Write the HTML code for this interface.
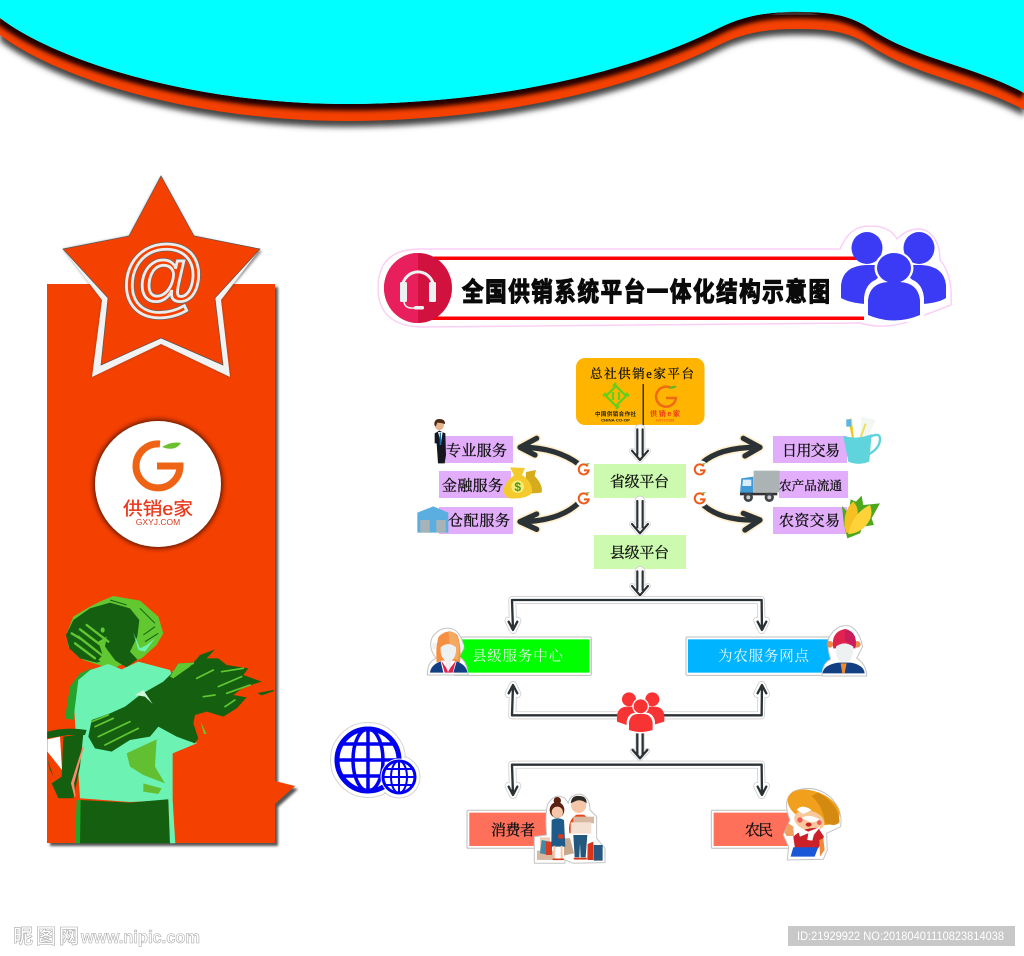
<!DOCTYPE html>
<html lang="zh"><head><meta charset="utf-8"><title>全国供销系统平台一体化结构示意图</title>
<style>
html,body{margin:0;padding:0;background:#fff;width:1024px;height:956px;overflow:hidden}
svg{display:block}
.l{font-family:"Liberation Serif","Noto Serif CJK SC",serif;font-size:15px;fill:#111;stroke:#111;stroke-width:.3}
.s{font-family:"Liberation Sans","Noto Sans CJK SC",sans-serif}
</style></head><body>
<svg xmlns="http://www.w3.org/2000/svg" width="1024" height="956" viewBox="0 0 1024 956">
<defs>
<filter id="b3" x="-10%" y="-50%" width="120%" height="200%"><feGaussianBlur stdDeviation="3"/></filter>
<filter id="b1" x="-10%" y="-10%" width="120%" height="120%"><feGaussianBlur stdDeviation="1.2"/></filter>
<filter id="b2" x="-20%" y="-20%" width="140%" height="140%"><feGaussianBlur stdDeviation="2"/></filter>
<clipPath id="bandclip"><path d="M0,18 C55,60 190,104 346,104 C480,104 620,78 719,28 C745,15 770,12 794,12 C820,12 845,12 869,28 C915,59 975,66 1024,93 L1024,110 C975,83 915,76 869,45 C845,29 820,29 794,29 C770,29 745,32 719,45 C620,95 480,121 346,121 C190,121 55,77 0,35 Z"/></clipPath>
<g id="smallg"><path d="M12,-9 A15,15 0 1 0 15,3 L1,3" fill="none" stroke="#ef5a1a" stroke-width="6"/><path d="M5,-16 Q12,-20 19,-17 Q12,-12 5,-16Z" fill="#5fb52a"/></g>
</defs>
<rect width="1024" height="956" fill="#fff"/>

<!-- top wave -->
<path d="M0,24 C55,66 190,110 346,110 C480,110 620,84 719,34 C745,21 770,18 794,18 C820,18 845,18 869,34 C915,65 975,72 1024,99 L1024,116 C975,89 915,82 869,51 C845,35 820,35 794,35 C770,35 745,38 719,51 C620,101 480,127 346,127 C190,127 55,83 0,41 Z" fill="#444" filter="url(#b3)"/>
<path d="M0,18 C55,60 190,104 346,104 C480,104 620,78 719,28 C745,15 770,12 794,12 C820,12 845,12 869,28 C915,59 975,66 1024,93 L1024,110 C975,83 915,76 869,45 C845,29 820,29 794,29 C770,29 745,32 719,45 C620,95 480,121 346,121 C190,121 55,77 0,35 Z" fill="#f44000"/>
<g clip-path="url(#bandclip)"><path d="M0,18 C55,60 190,104 346,104 C480,104 620,78 719,28 C745,15 770,12 794,12 C820,12 845,12 869,28 C915,59 975,66 1024,93" fill="none" stroke="#200400" stroke-width="13" filter="url(#b2)"/></g>
<path d="M0,0 L1024,0 L1024,93 C975,66 915,59 869,28 C845,12 820,12 794,12 C770,12 745,15 719,28 C620,78 480,104 346,104 C190,104 55,60 0,18 Z" fill="#0ff"/>
<path d="M770,15 Q794,8 820,15 Q794,15 770,15Z" fill="#555" opacity=".55"/>

<!-- left panel -->
<path d="M50,287 H278 V784 L298,789 L278,807 V846 H50 Z" fill="#555" filter="url(#b1)"/>
<path d="M47,284 H275 V781 L295,786 L275,804 V843 H47 Z" fill="#f44000"/>
<!-- star -->
<polygon points="161,176 194,236 262,251 221,300 230,377 161,344 92,377 102,300 63,249 129,236" fill="#444" filter="url(#b1)" opacity=".6"/>
<polygon points="161,176 194,236 260,249 221,300 230,377 161,344 92,377 102,300 63,249 129,236" fill="#f2f2f2"/>
<polygon points="161,176 194,236 260,249 215,298 223,365 161,338 101,365 108,298 63,249 129,236" fill="#f44000" stroke="#555" stroke-width=".7"/>
<text x="161.500" y="306" text-anchor="middle" font-family="Liberation Sans, sans-serif" font-style="italic" font-size="85" fill="#f44000" stroke="#666" stroke-width="4.200">@</text>
<text x="161.500" y="306" text-anchor="middle" font-family="Liberation Sans, sans-serif" font-style="italic" font-size="85" fill="#f44000" stroke="#ececec" stroke-width="2.800">@</text>
<!-- logo circle -->
<circle cx="158" cy="484" r="65" fill="#6a1c00" filter="url(#b2)"/>
<circle cx="158" cy="484" r="63" fill="#fff"/>
<path d="M160,444 A22,22 0 1 0 180,466 L157,466" fill="none" stroke="#ee6414" stroke-width="7"/>
<path d="M162,447 Q172,441 181,443 Q175,452 162,447Z" fill="#6cbf2e"/>
<text x="158" y="515" text-anchor="middle" class="s" font-size="18" fill="#e8391b" stroke="#e8391b" stroke-width=".3" textLength="70" lengthAdjust="spacingAndGlyphs">供销e家</text>
<text x="158" y="525" text-anchor="middle" class="s" font-size="8.500" fill="#d83a1a">GXYJ.COM</text>

<!-- farmer -->
<g transform="translate(30,580) scale(.3333)">
<path d="M210,65 L250,48 L330,62 L385,110 L400,160 L380,195 L335,235 L240,265 L160,240 L115,200 L110,160 L130,110 L180,80Z" fill="#62c832"/>
<path d="M108,165 L130,120 L180,85 L240,68 L300,85 L328,120 L322,170 L300,215 L322,238 L290,262 L245,235 L200,248 L150,235 L118,205Z" fill="#156010"/>
<g fill="none" stroke="#62c832" stroke-width="7" stroke-linecap="round"><path d="M150,148 L225,205"/><path d="M145,170 L215,225"/><path d="M135,190 L195,235"/><path d="M170,135 L235,185"/><path d="M125,160 L150,175"/></g>
<path d="M230,170 L225,200 L268,258 L245,266 L205,240 L218,225 L205,185Z" fill="#62c832"/>
<ellipse cx="218" cy="150" rx="6" ry="8" fill="#62c832"/>
<path d="M310,158 L325,210 L345,215 L375,175 L350,195 L330,205Z" fill="#6cf3b4"/>
<g fill="none" stroke="#156010" stroke-width="3"><path d="M340,165 L375,140"/><path d="M345,185 L385,160"/><path d="M330,85 L375,130"/><path d="M240,60 L290,75"/></g>
<path d="M130,350 L150,280 L235,252 L275,268 L325,245 L420,270 L500,490 L428,520 L428,660 L300,666 L150,655 L140,500Z" fill="#6cf3b4"/>
<path d="M105,415 L120,320 L150,280 L190,262 L145,300 L130,420Z" fill="#24a42c"/>
<path d="M290,520 L380,478 L375,560 L405,610 L340,585 L300,560Z" fill="#62bf32"/>
<path d="M340,610 L395,625 L385,642 L340,635Z" fill="#62bf32"/>
<path d="M150,660 L300,668 L415,658 L420,790 L150,790Z" fill="#156010"/>
<path d="M135,790 L140,660 L152,660 L150,790Z" fill="#24a42c"/>
<path d="M415,658 L428,660 L436,790 L420,790Z" fill="#6cf3b4"/>
<path d="M400,305 L425,280 L445,250 L490,248 L510,225 L555,208 L530,235 L565,235 L590,255 L655,265 L640,285 L695,305 L640,322 L610,345 L650,352 L620,385 L580,410 L530,395 L495,405 L490,430 L505,475 L495,490 L440,470 L385,440 L360,470 L300,480 L245,515 L195,505 L175,470 L185,420 L240,400 L285,380 L330,345Z" fill="#156010"/>
<path d="M420,290 L445,250 L490,248 L510,225 L480,260 L430,295Z" fill="#62c832"/>
<g fill="none" stroke="#62c832" stroke-width="5" stroke-linecap="round"><path d="M520,350 L555,345"/><path d="M500,295 L550,270"/><path d="M565,320 L635,290"/><path d="M575,275 L640,265"/><path d="M585,380 L615,360"/><path d="M205,470 L300,425"/><path d="M195,440 L250,415"/><path d="M225,495 L325,445"/><path d="M185,425 L235,405"/><path d="M430,275 L490,250"/><path d="M590,340 L660,315"/></g>
<path d="M688,340 L730,332 L695,344Z" fill="#156010" stroke="#156010" stroke-width="4"/>
<path d="M340,330 L368,372 L345,350 L315,345Z" fill="#d0f8dc"/>
<path d="M512,425 L530,462 L522,462Z" fill="#62c832"/>
<path d="M52,455 Q110,440 170,450 L165,465 L115,465 L52,475Z" fill="#156010"/>
<path d="M52,478 L90,470 L96,570 L52,515Z" fill="#fff"/>
<path d="M100,470 L160,462 L150,560 L130,655 L85,655 L65,610 L95,590Z" fill="#156010"/>
<path d="M160,500 L125,610 L135,650 L130,610Z" fill="#ff8a70" stroke="#ff8a70" stroke-width="4"/>
<path d="M52,535 L70,590 L60,570Z" fill="#156010"/>
</g>

<!-- globe -->
<g>
<circle cx="368" cy="760" r="37.500" fill="#fff" stroke="#d4d4d4" stroke-width="1"/>
<circle cx="399" cy="777" r="21" fill="#fff" stroke="#d4d4d4" stroke-width="1"/>
<circle cx="368" cy="760" r="36" fill="#fff"/>
<g fill="none" stroke="#0000f0">
<circle cx="368" cy="760" r="31" stroke-width="5"/>
<ellipse cx="368" cy="760" rx="15" ry="31" stroke-width="3.500"/>
<path d="M368,729 V791 M337,760 H399 M342,744 H394 M342,776 H394" stroke-width="3.500"/>
</g>
<circle cx="399" cy="777" r="18.500" fill="#fff"/>
<g fill="none" stroke="#0000f0">
<circle cx="399" cy="777" r="16" stroke-width="3"/>
<ellipse cx="399" cy="777" rx="8" ry="16" stroke-width="2"/>
<path d="M399,761 V793 M383,777 H415 M386,769 H412 M386,785 H412" stroke-width="2"/>
</g>
</g>

<!-- title banner -->
<path d="M418,249 H840 Q850,225 870,226 Q890,226 897,239 Q910,226 925,230 Q940,238 940,260 Q953,275 951,305 L925,315 Q890,332 860,323 L420,327 Q378,325 378,288 Q378,250 418,249Z" fill="#fff" stroke="#fbd0f6" stroke-width="1.500"/>
<rect x="428" y="256.500" width="455" height="3.500" fill="#f00"/>
<rect x="428" y="316.500" width="455" height="3.500" fill="#f00"/>
<ellipse cx="418" cy="288" rx="34" ry="35" fill="#d2123e"/>
<path d="M418,253 A34,35 0 0 0 418,323Z" fill="#e81f5c"/>
<path d="M403,294 V283 A16,17 0 0 1 433,283 V294" fill="none" stroke="#eef1f2" stroke-width="3"/>
<rect x="400" y="282" width="7" height="20" rx="1.500" fill="#eef1f2"/>
<rect x="429" y="282" width="7" height="20" rx="1.500" fill="#eef1f2"/>
<path d="M404,302 Q405,309 415,308" fill="none" stroke="#eef1f2" stroke-width="1.500"/>
<rect x="414" y="306" width="10" height="3.500" rx="1.500" fill="#eef1f2"/>
<g transform="translate(462,301) scale(1,1.22)"><text x="0" y="0" class="s" font-size="21.500" font-weight="700" fill="#0a0a0a" stroke="#0a0a0a" stroke-width="1" textLength="368" lengthAdjust="spacing">全国供销系统平台一体化结构示意图</text></g>
<!-- blue people -->
<g fill="#3b3bf5">
<ellipse cx="867" cy="248" rx="15.500" ry="16"/>
<ellipse cx="919" cy="248" rx="15.500" ry="16"/>
<path d="M841,285 Q843,266 866,265 H892 L870,285 L866,304 Q850,303 841,298Z"/>
<path d="M946,285 Q944,266 921,265 H896 L918,285 L922,304 Q938,303 946,298Z"/>
</g>
<ellipse cx="894" cy="268" rx="19.500" ry="17" fill="#fff"/>
<path d="M864,322 V298 Q866,278 886,278 H902 Q922,278 924,298 V322Z" fill="#fff"/>
<ellipse cx="894" cy="268" rx="17" ry="15" fill="#3b3bf5"/>
<path d="M868,315 V300 Q870,283 888,282 H900 Q918,283 920,300 V315 Q894,326 868,315Z" fill="#3b3bf5"/>

<!-- top box -->
<rect x="576" y="358" width="128.500" height="67" rx="9" fill="#ffb400"/>
<text x="590" y="378" class="l" style="font-size:12.500px" textLength="104" lengthAdjust="spacing">总社供销e家平台</text>
<g transform="translate(616,396)" fill="none" stroke="#5fd01e" stroke-width="2.200"><path d="M0,-10 L10,0 L0,10 L-10,0Z"/><path d="M-3,-4 V4 M3,-4 V4 M-13,0 L-10,-3 M13,0 L10,-3 M0,-13 L-3,-10 M0,13 L3,10"/></g>
<rect x="642.500" y="384" width="1.500" height="41" fill="#333"/>
<path d="M671,388 A10,10 0 1 0 676,398 L666,398" fill="none" stroke="#ef6a14" stroke-width="2.500"/>
<path d="M668,388 Q673,385 677,386 Q674,390 668,388Z" fill="#5fb52a"/>
<text x="595" y="416" class="s" font-size="5.500" font-weight="700" fill="#222" textLength="41">中国供销合作社</text>
<text x="601" y="421.500" class="s" font-size="4" font-weight="700" fill="#222" textLength="29" lengthAdjust="spacingAndGlyphs">CHINA CO-OP</text>
<text x="650" y="416" class="s" font-size="7" font-weight="700" fill="#e8391b" textLength="30">供销e家</text>
<text x="656" y="421.500" class="s" font-size="3.500" fill="#e8391b">GXYJ.COM</text>

<!-- purple boxes -->
<g fill="#e2aefb">
<rect x="443" y="436" width="70" height="27"/>
<rect x="439" y="471" width="72" height="27"/>
<rect x="439" y="507" width="74" height="27"/>
<rect x="773" y="436" width="74" height="27"/>
<rect x="779" y="471" width="69" height="27"/>
<rect x="773" y="507" width="74" height="27"/>
</g>
<g fill="#ccfbb0">
<rect x="594" y="464" width="92" height="34"/>
<rect x="594" y="535" width="92" height="34"/>
</g>

<!-- curved arrows and vertical arrows -->
<g transform="translate(410,410) scale(.3333)" fill="none" stroke-linecap="round" stroke-linejoin="round">
<g stroke="#ffefcc" stroke-width="26">
<path d="M510,165 Q440,112 335,112 M380,85 L330,112 L375,135"/>
<path d="M510,275 Q450,335 330,335 M380,312 L330,335 L380,358"/>
<path d="M875,160 Q930,110 1050,112 M1000,85 L1050,112 L1005,138"/>
<path d="M875,280 Q930,335 1050,330 M1000,310 L1050,330 L1005,360"/>
</g>
<g stroke="#2b3236" stroke-width="16">
<path d="M510,165 Q440,112 335,112 M380,85 L330,112 L375,135"/>
<path d="M510,275 Q450,335 330,335 M380,312 L330,335 L380,358"/>
<path d="M875,160 Q930,110 1050,112 M1000,85 L1050,112 L1005,138"/>
<path d="M875,280 Q930,335 1050,330 M1000,310 L1050,330 L1005,360"/>
</g>
<g stroke="#cfcfcf">
<path stroke-width="32" d="M690,58 V125 M690,273 V340 M690,484 V530"/>
<path stroke-width="17" d="M666,122 L690,150 L714,122 M666,342 L690,370 L714,342 M666,528 L690,556 L714,528"/>
</g>
<g stroke="#fff">
<path stroke-width="27" d="M690,58 V125 M690,273 V340 M690,484 V530"/>
<path stroke-width="13" d="M666,122 L690,150 L714,122 M666,342 L690,370 L714,342 M666,528 L690,556 L714,528"/>
</g>
<g stroke="#2b3236" stroke-width="6.500">
<path d="M682,58 V135 M698,58 V135 M666,122 L690,150 L714,122"/>
<path d="M682,273 V352 M698,273 V352 M666,342 L690,370 L714,342"/>
<path d="M682,484 V540 M698,484 V540 M666,528 L690,556 L714,528"/>
</g>
<circle cx="522" cy="177" r="26" fill="#fff" stroke="none"/>
<circle cx="522" cy="265" r="26" fill="#fff" stroke="none"/>
<circle cx="870" cy="177" r="26" fill="#fff" stroke="none"/>
<circle cx="870" cy="265" r="26" fill="#fff" stroke="none"/>
<use href="#smallg" x="521" y="178" stroke-linecap="butt" stroke-linejoin="miter"/>
<use href="#smallg" x="521" y="265" stroke-linecap="butt" stroke-linejoin="miter"/>
<use href="#smallg" x="869" y="178" stroke-linecap="butt" stroke-linejoin="miter"/>
<use href="#smallg" x="869" y="265" stroke-linecap="butt" stroke-linejoin="miter"/>

<!-- person -->
<ellipse cx="88" cy="44" rx="14" ry="17" fill="#e8b48c" stroke="none"/>
<path d="M73,45 Q72,27 88,27 Q106,27 105,42 Q92,38 82,38 L77,50Z" fill="#4a2a16" stroke="none"/>
<path d="M74,70 L88,62 L106,70 L108,135 L104,160 L84,160 L80,100 L74,100Z" fill="#14181e" stroke="none"/>
<path d="M84,66 H98 L93,100Z" fill="#fff" stroke="none"/>
<path d="M89,68 H93 L94,105 H89Z" fill="#1f6fb5" stroke="none"/>
<!-- warehouse -->
<path d="M22,368 V308 L70,289 L115,308 V368Z" fill="#5aafe0" stroke="none"/>
<rect x="31" y="330" width="28" height="38" fill="#a7b3b6" stroke="none"/>
<rect x="79" y="330" width="28" height="38" fill="#a7b3b6" stroke="none"/>
<!-- money bags -->
<path d="M348,186 L378,180 L374,198 Q400,225 395,248 L345,252Z" fill="#d6ac1c" stroke="none"/>
<path d="M300,172 L345,174 L336,195 Q372,220 365,250 Q345,268 300,265 Q278,260 282,235 Q288,212 312,196Z" fill="#f4ca2e" stroke="none"/>
<circle cx="323" cy="230" r="19" fill="#ffe873" stroke="none"/>
<text x="323" y="243" text-anchor="middle" font-family="Liberation Sans, sans-serif" font-size="36" font-weight="700" fill="#3f9a20" stroke="none">$</text>
<!-- cup -->
<path d="M1315,28 L1325,25 L1332,85 L1326,85Z" fill="#eacb1e" stroke="none"/>
<rect x="1309" y="28" width="14" height="22" fill="#5fb4e6" stroke="none"/>
<path d="M1355,20 L1398,30 L1368,90 L1348,85Z" fill="#f2f7f2" stroke="none"/>
<path d="M1364,40 L1370,42 L1354,85 L1348,85Z" fill="#eedd60" stroke="none"/>
<path d="M1300,78 Q1345,90 1385,72 L1378,155 Q1345,168 1315,155Z" fill="#5fd4dc" stroke="none"/>
<path d="M1382,80 Q1412,65 1410,90 Q1408,115 1378,132" fill="none" stroke="#5fd4dc" stroke-width="7"/>
<!-- truck -->
<rect x="1031" y="182" width="78" height="65" fill="#acb3b4" stroke="none"/>
<path d="M994,205 L1030,200 V250 H990Z" fill="#3f9ad6" stroke="none"/>
<path d="M999,209 H1024 V228 H997Z" fill="#d7eef8" stroke="none"/>
<rect x="990" y="248" width="112" height="8" fill="#333" stroke="none"/>
<circle cx="1015" cy="262" r="14" fill="#3d4347" stroke="none"/>
<circle cx="1015" cy="262" r="6" fill="#ccc" stroke="none"/>
<circle cx="1078" cy="262" r="14" fill="#3d4347" stroke="none"/>
<circle cx="1078" cy="262" r="6" fill="#ccc" stroke="none"/>
<!-- corn -->
<path d="M1296,288 L1316,310 L1322,268 L1338,275 L1355,257 L1360,285 L1410,280 L1385,325 L1392,345 L1358,350 L1350,370 L1312,385 L1302,345Z" fill="#4da81e" stroke="none"/>
<path d="M1304,352 Q1300,300 1330,275 Q1352,298 1338,335 Q1325,360 1310,370Z" fill="#f4c022" stroke="none"/>
<path d="M1314,372 Q1328,310 1380,285 Q1394,320 1365,350 Q1342,372 1314,372Z" fill="#ffd23a" stroke="none"/>
</g>

<text x="446" y="455.500" class="l" textLength="61">专业服务</text>
<text x="442" y="490.500" class="l" textLength="61">金融服务</text>
<text x="448" y="525.500" class="l" textLength="62">仓配服务</text>
<text x="782" y="455.500" class="l" textLength="58">日用交易</text>
<text x="779" y="490" class="l" style="font-size:12.500px" textLength="63">农产品流通</text>
<text x="779" y="525.500" class="l" textLength="61">农资交易</text>
<text x="610" y="486.500" class="l" textLength="59">省级平台</text>
<text x="610" y="557.500" class="l" textLength="59">县级平台</text>

<!-- lower connectors -->
<g transform="translate(410,590) scale(.3333)" fill="none" stroke-linejoin="round" stroke-linecap="round">
<g stroke="#cfcfcf" stroke-width="24">
<path d="M309,115 L307,30 H1053 L1055,115 M296,92 L309,120 L322,92 M1042,92 L1055,120 L1068,92"/>
<path d="M309,290 L307,376 H1053 L1055,290 M296,312 L309,285 L322,312 M1042,312 L1055,285 L1068,312"/>
<path d="M309,610 L307,524 H1053 L1055,610 M296,588 L309,615 L322,588 M1042,588 L1055,615 L1068,588"/>
</g>
<path stroke="#cfcfcf" stroke-width="30" d="M690,430 V480"/>
<path stroke="#cfcfcf" stroke-width="17" d="M668,482 L690,505 L712,482"/>
<g stroke="#fff" stroke-width="19">
<path d="M309,115 L307,30 H1053 L1055,115 M296,92 L309,120 L322,92 M1042,92 L1055,120 L1068,92"/>
<path d="M309,290 L307,376 H1053 L1055,290 M296,312 L309,285 L322,312 M1042,312 L1055,285 L1068,312"/>
<path d="M309,610 L307,524 H1053 L1055,610 M296,588 L309,615 L322,588 M1042,588 L1055,615 L1068,588"/>
</g>
<path stroke="#fff" stroke-width="26" d="M690,430 V480"/>
<path stroke="#fff" stroke-width="12" d="M668,482 L690,505 L712,482"/>
<g stroke="#2b3236" stroke-width="7">
<path d="M309,118 L306,30 H1055 L1056,118 M296,95 L309,120 L322,95 M1043,95 L1056,120 L1069,95"/>
<path d="M309,288 L306,376 H1055 L1056,288 M296,310 L309,285 L322,310 M1043,310 L1056,285 L1069,310"/>
<path d="M309,612 L306,524 H1055 L1056,612 M296,590 L309,615 L322,590 M1043,590 L1056,615 L1069,590"/>
<path d="M682,428 V495 M698,428 V495 M668,480 L690,505 L712,480"/>
</g>
<!-- red people -->
<g fill="#f73333" stroke="none">
<circle cx="657" cy="328" r="21"/><circle cx="727" cy="328" r="21"/>
<path d="M621,395 V375 Q625,352 650,350 H735 Q760,352 763,375 V395 L730,405 L650,405Z"/>
</g>
<circle cx="692" cy="349" r="25" fill="#fff" stroke="none"/>
<path d="M650,430 V395 Q655,368 680,368 H705 Q730,368 735,395 V430Z" fill="#fff" stroke="none"/>
<circle cx="692" cy="349" r="21" fill="#f73333" stroke="none"/>
<path d="M657,420 V398 Q660,374 682,372 H702 Q724,374 728,398 V420 Q692,432 657,420Z" fill="#f73333" stroke="none"/>

<!-- service boxes -->
<rect x="130" y="141" width="414" height="115" rx="4" fill="#fff" stroke="#bdbdbd" stroke-width="3"/>
<rect x="145" y="148" width="393" height="100" fill="#00ff00" stroke="none"/>
<rect x="828" y="141" width="440" height="115" rx="4" fill="#fff" stroke="#bdbdbd" stroke-width="3"/>
<rect x="834" y="148" width="430" height="100" fill="#00b4ff" stroke="none"/>
<!-- left agent -->
<path d="M52,255 Q52,215 78,205 Q52,170 68,140 Q95,105 130,118 Q155,130 162,175 L148,200 Q172,215 174,255Z" fill="#fff" stroke="#c4c4c4" stroke-width="3"/>
<circle cx="74" cy="168" r="11" fill="#f2f2f2" stroke="none"/><circle cx="152" cy="168" r="10" fill="#f2f2f2" stroke="none"/>
<path d="M80,218 Q76,170 86,140 Q115,112 142,135 Q155,165 150,218 L130,212 H95Z" fill="#f58f42" stroke="none"/>
<path d="M115,124 Q142,122 148,165 L145,210 L122,205Z" fill="#f4a860" stroke="none"/>
<path d="M92,172 Q115,152 138,172 Q140,200 124,212 L122,232 L114,244 L108,232 L106,212 Q90,200 92,172Z" fill="#eef1f2" stroke="none"/>
<path d="M60,248 Q62,225 92,214 L100,248Z M172,248 Q170,225 140,214 L130,248Z" fill="#123f84" stroke="none"/>
<path d="M94,212 L104,248 H128 L138,212 L122,232 L114,246 L108,232Z" fill="#e0224e" stroke="none"/>
<!-- right agent -->
<path d="M1236,258 Q1236,220 1262,208 Q1250,170 1256,145 Q1280,100 1320,108 Q1350,125 1358,170 L1340,205 Q1368,220 1370,258Z" fill="#fff" stroke="#c4c4c4" stroke-width="3"/>
<circle cx="1260" cy="163" r="10" fill="#f08a4a" stroke="none"/><circle cx="1342" cy="163" r="10" fill="#f08a4a" stroke="none"/>
<path d="M1270,175 Q1262,125 1305,117 Q1345,125 1336,175Z" fill="#e0224e" stroke="none"/>
<path d="M1305,117 Q1345,125 1336,175 L1305,150Z" fill="#c81c5c" stroke="none"/>
<path d="M1278,170 Q1303,150 1330,170 Q1332,200 1316,214 V228 H1290 V214 Q1276,200 1278,170Z" fill="#eef1f2" stroke="none"/>
<path d="M1238,250 Q1240,225 1285,218 H1322 Q1362,225 1364,250Z" fill="#123f84" stroke="none"/>
<path d="M1292,220 H1310 L1304,250 H1297Z" fill="#f08a2c" stroke="none"/>
<!-- consumer -->
<rect x="171" y="661" width="300" height="114" rx="4" fill="#fff" stroke="#bdbdbd" stroke-width="3"/>
<rect x="178" y="668" width="260" height="100" fill="#ff705a" stroke="none"/>
<path d="M373,820 V740 L410,735 Q405,680 412,645 Q435,605 465,625 L475,640 Q478,615 510,612 Q540,620 540,660 L560,680 V745 L585,775 V818 L490,820 L465,810 V820Z" fill="#fff" stroke="#c4c4c4" stroke-width="3"/>
<rect x="381" y="782" width="52" height="28" fill="#d8b8a0" stroke="none"/>
<rect x="390" y="742" width="30" height="40" fill="#eacfb8" stroke="none"/>
<path d="M395,750 L420,755 L415,795 L390,790Z" fill="#3f8aa8" stroke="none"/>
<rect x="408" y="755" width="18" height="40" fill="#d83b20" stroke="none"/>
<path d="M462,745 L480,745 L492,790 L462,797Z" fill="#c9a890" stroke="none"/>
<circle cx="442" cy="632" r="11" fill="#5a2010" stroke="none"/>
<ellipse cx="441" cy="660" rx="22" ry="24" fill="#5a2010" stroke="none"/>
<ellipse cx="442" cy="667" rx="17" ry="17" fill="#f5c6a8" stroke="none"/>
<path d="M425,690 Q443,680 462,690 L466,770 H424Z" fill="#1e5a8a" stroke="none"/>
<path d="M433,770 V805 M455,770 V805" stroke="#f5c6a8" stroke-width="6"/>
<path d="M430,808 H445 M448,808 H460" stroke="#d83b20" stroke-width="5"/>
<rect x="445" y="733" width="16" height="13" fill="#d83b20" stroke="none"/>
<ellipse cx="506" cy="645" rx="23" ry="24" fill="#f5c6a8" stroke="none"/>
<path d="M482,640 Q485,615 508,618 Q530,618 530,640 Q515,628 500,632Z" fill="#2e2a28" stroke="none"/>
<path d="M478,730 Q472,690 500,674 H520 Q540,680 543,730Z" fill="#e8481c" stroke="none"/>
<rect x="490" y="680" width="62" height="20" fill="#d8b8a0" stroke="none"/>
<rect x="482" y="697" width="62" height="34" fill="#f4e0d2" stroke="none"/>
<path d="M490,735 H532 L527,802 H512 L510,760 L508,802 H494Z" fill="#24577d" stroke="none"/>
<path d="M494,806 H510 M514,806 H528" stroke="#d83b20" stroke-width="6"/>
<path d="M533,762 L550,755 V810 H532Z" fill="#d8341c" stroke="none"/>
<rect x="551" y="765" width="27" height="47" fill="#28587f" stroke="none"/>
<!-- farmer tag -->
<rect x="904" y="661" width="250" height="114" rx="4" fill="#fff" stroke="#bdbdbd" stroke-width="3"/>
<rect x="911" y="668" width="240" height="100" fill="#ff705a" stroke="none"/>
<path d="M1132,810 L1136,770 L1120,735 L1140,690 Q1115,630 1150,605 Q1210,580 1260,620 Q1300,660 1292,710 L1250,730 L1252,780 L1240,808Z" fill="#fff" stroke="#c4c4c4" stroke-width="3"/>
<ellipse cx="1211" cy="652" rx="82" ry="47" transform="rotate(22 1211 652)" fill="#f0a01c" stroke="none"/>
<path d="M1225,607 Q1285,640 1289,695 Q1280,712 1245,700 Q1240,650 1205,618Z" fill="#d48a10" stroke="none"/>
<ellipse cx="1198" cy="692" rx="46" ry="30" transform="rotate(15 1198 692)" fill="#f9c89a" stroke="none"/>
<path d="M1160,660 Q1175,640 1205,660 L1180,672Z" fill="#fff" stroke="none"/>
<circle cx="1170" cy="690" r="8" fill="#f35a5a" stroke="none"/><circle cx="1228" cy="698" r="7" fill="#f35a5a" stroke="none"/>
<path d="M1175,684 Q1198,670 1228,688 Q1215,702 1195,694Z" fill="#fff" stroke="none"/>
<ellipse cx="1196" cy="704" rx="9" ry="6" fill="#c92020" stroke="none"/>
<path d="M1150,740 Q1180,712 1225,714 L1242,740 L1225,775 H1155Z" fill="#c9202a" stroke="none"/>
<path d="M1160,710 L1195,725 L1232,710 L1212,734 L1207,752 L1192,750 L1195,730 L1170,740Z" fill="#fff" stroke="none"/>
<path d="M1150,772 H1225 L1214,800 H1142Z" fill="#1a56d8" stroke="none"/>
<path d="M1228,750 L1240,745 L1244,780 L1230,800Z" fill="#f08a3a" stroke="none"/>
<path d="M1124,728 L1135,700 L1150,710 L1152,738 L1130,738Z" fill="#f0a060" stroke="none"/>
</g>

<text x="472" y="661" class="l" style="fill:#f0fff0;stroke:none;font-size:14.500px" textLength="91">县级服务中心</text>
<text x="718" y="661" class="l" style="fill:#eafaff;stroke:none;font-size:14.500px" textLength="91">为农服务网点</text>
<text x="491" y="835" class="l" textLength="44">消费者</text>
<text x="745" y="835" class="l" textLength="28">农民</text>

<!-- watermark -->
<text x="13" y="943" class="s" font-size="20" font-weight="700" fill="#fff" stroke="#a9a9a9" stroke-width=".6" textLength="66">昵图网</text>
<text x="81" y="943" class="s" font-size="17.500" font-weight="700" fill="#fff" stroke="#a9a9a9" stroke-width=".6" textLength="119" lengthAdjust="spacingAndGlyphs">www.nipic.com</text>
<rect x="788" y="926" width="227" height="20" fill="#c8c8c8"/>
<text x="797" y="940" class="s" font-size="11.500" fill="#fff" textLength="207" lengthAdjust="spacingAndGlyphs">ID:21929922 NO:20180401110823814038</text>
</svg>
</body></html>
